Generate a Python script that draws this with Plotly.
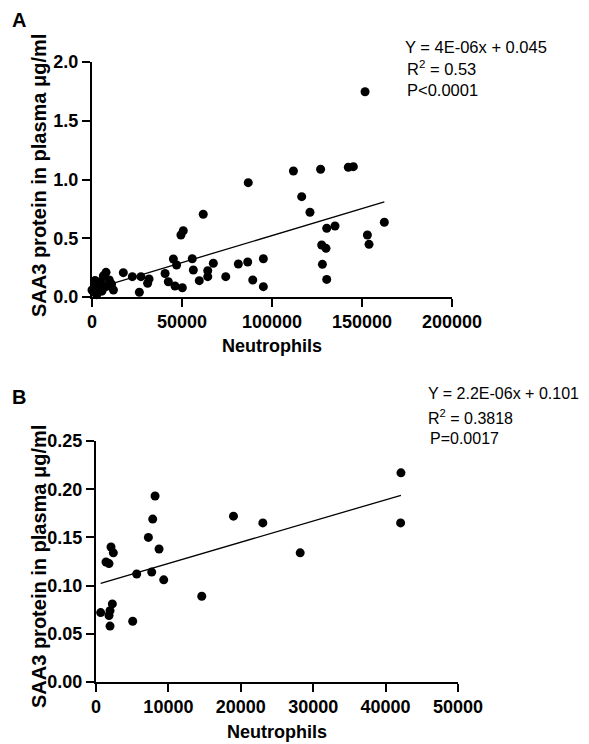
import plotly.graph_objects as go

# Panel A data: Neutrophils vs SAA3 protein (ug/ml)
a_neutrophils = [0, 800, 2600, 1700, 4400, 4800, 6300, 7800, 8100, 9600, 10900, 11900, 3000, 5500, 1500,
                 17400, 22400, 26300, 27200, 30900, 31700, 40600, 42400, 45200, 46100, 47000, 49400,
                 50200, 50700, 55700, 56300, 59600, 61800, 64300, 64300, 67400, 74300, 81300, 86500,
                 86800, 89300, 95200, 95200,
                 111900, 116500, 121100, 127000, 127600, 128000, 130000, 130400, 130400, 135000,
                 142400, 145200, 151700, 153000, 153900, 162400]
a_saa3 = [0.06, 0.045, 0.02, 0.14, 0.075, 0.13, 0.18, 0.21, 0.09, 0.145, 0.11, 0.06, 0.10, 0.05, 0.09,
          0.207, 0.173, 0.04, 0.173, 0.117, 0.153, 0.20, 0.13, 0.323, 0.094, 0.272, 0.528,
          0.079, 0.564, 0.326, 0.23, 0.139, 0.704, 0.173, 0.224, 0.287, 0.173, 0.281, 0.298,
          0.973, 0.145, 0.326, 0.088,
          1.072, 0.854, 0.721, 1.087, 0.443, 0.278, 0.414, 0.585, 0.15, 0.604,
          1.104, 1.109, 1.747, 0.528, 0.448, 0.636]
a_fit_slope = 4.6e-06
a_fit_intercept = 0.063
a_stats = ["Y = 4E-06x + 0.045", "R<sup>2</sup> = 0.53", "P<0.0001"]

# Panel B data
b_neutrophils = [645, 1383, 1797, 1797, 1935, 1935, 2074, 2258, 2397, 5069, 5622, 7235, 7696, 7834,
                 8157, 8710, 9355, 14608, 18986, 23041, 28203, 42074, 42120]
b_saa3 = [0.072, 0.1245, 0.1228, 0.069, 0.074, 0.058, 0.140, 0.081, 0.134, 0.063, 0.112, 0.150, 0.114,
          0.169, 0.193, 0.138, 0.106, 0.089, 0.172, 0.165, 0.134, 0.165, 0.217]
b_fit_slope = 2.2e-06
b_fit_intercept = 0.101
b_stats = ["Y = 2.2E-06x + 0.101", "R<sup>2</sup> = 0.3818", "P=0.0017"]

x_title = "Neutrophils"
y_title = "SAA3 protein in plasma μg/ml"

FONT = "Arial, Liberation Sans, sans-serif"

fig = go.Figure()

def add_panel(xs, ys, slope, intercept, xaxis, yaxis):
    fig.add_trace(go.Scatter(x=xs, y=ys, mode="markers", xaxis=xaxis, yaxis=yaxis,
                             marker=dict(color="black", size=9), cliponaxis=False, showlegend=False))
    x0, x1 = min(xs), max(xs)
    fig.add_trace(go.Scatter(x=[x0, x1], y=[intercept + slope * x0, intercept + slope * x1],
                             mode="lines", xaxis=xaxis, yaxis=yaxis,
                             line=dict(color="black", width=1.3), showlegend=False))

add_panel(a_neutrophils, a_saa3, a_fit_slope, a_fit_intercept, "x", "y")
add_panel(b_neutrophils, b_saa3, b_fit_slope, b_fit_intercept, "x2", "y2")

axis_common = dict(showline=True, linecolor="black", linewidth=2, ticks="outside", ticklen=8,
                   tickwidth=2, tickcolor="black", showgrid=False, zeroline=False,
                   tickfont=dict(family=FONT, size=18, color="black", weight="bold"))

# page body has an 8px margin: screenshot pixel = figure pixel + 8
OFF = 8
W, H = 589 - OFF, 744 - OFF
L, T = 92 - OFF, 62 - OFF
R = W - (458 - OFF)
B = H - (682 - OFF)
PW, PH = W - L - R, H - T - B

def px(xpix):
    return (xpix - OFF - L) / PW

def py(ypix):
    return (H - B - (ypix - OFF)) / PH

fig.update_layout(
    width=W, height=H, margin=dict(l=L, r=R, t=T, b=B),
    paper_bgcolor="white", plot_bgcolor="white",
    xaxis=dict(domain=[0, px(452)], range=[0, 200000], tickvals=[0, 50000, 100000, 150000, 200000],
               ticktext=["0", "50000", "100000", "150000", "200000"], anchor="y",
               ticklabelstandoff=-1, **axis_common),
    yaxis=dict(domain=[py(297), 1], range=[0, 2.0], tickvals=[0, 0.5, 1.0, 1.5, 2.0],
               ticktext=["0.0", "0.5", "1.0", "1.5", "2.0"], anchor="x", **axis_common),
    xaxis2=dict(domain=[px(96), 1], range=[0, 50000], tickvals=[0, 10000, 20000, 30000, 40000, 50000],
                ticktext=["0", "10000", "20000", "30000", "40000", "50000"], anchor="y2",
                ticklabelstandoff=-1, **axis_common),
    yaxis2=dict(domain=[0, py(441)], range=[0, 0.25], tickvals=[0, 0.05, 0.10, 0.15, 0.20, 0.25],
                ticktext=["0.00", "0.05", "0.10", "0.15", "0.20", "0.25"], anchor="x2", **axis_common),
)

anns = []
def ann(text, xpix, ypix, size=16, bold=False, angle=0, xanchor="center"):
    anns.append(dict(text=text, x=px(xpix), y=py(ypix), xref="paper", yref="paper",
                     showarrow=False, xanchor=xanchor, yanchor="middle", textangle=angle,
                     borderpad=0,
                     font=dict(family=FONT, size=size, color="black", weight="bold" if bold else "normal")))

ann("A", 19, 20, size=20, bold=True)
ann("B", 19, 397, size=20, bold=True)
ann(y_title, 39, 176, size=20, bold=True, angle=-90)
ann(y_title, 39, 567, size=20, bold=True, angle=-90)
ann(x_title, 272, 346, size=18, bold=True)
ann(x_title, 277, 732, size=18, bold=True)
for text, ypos, xpos in zip(a_stats, [47, 68, 90], [404, 406, 406]):
    ann(text, xpos, ypos, size=16.5, xanchor="left")
for text, ypos, xpos in zip(b_stats, [393, 417, 438], [427, 427, 429]):
    ann(text, xpos, ypos, size=16, xanchor="left")

fig.update_layout(annotations=anns)
fig.write_html("out.html")
